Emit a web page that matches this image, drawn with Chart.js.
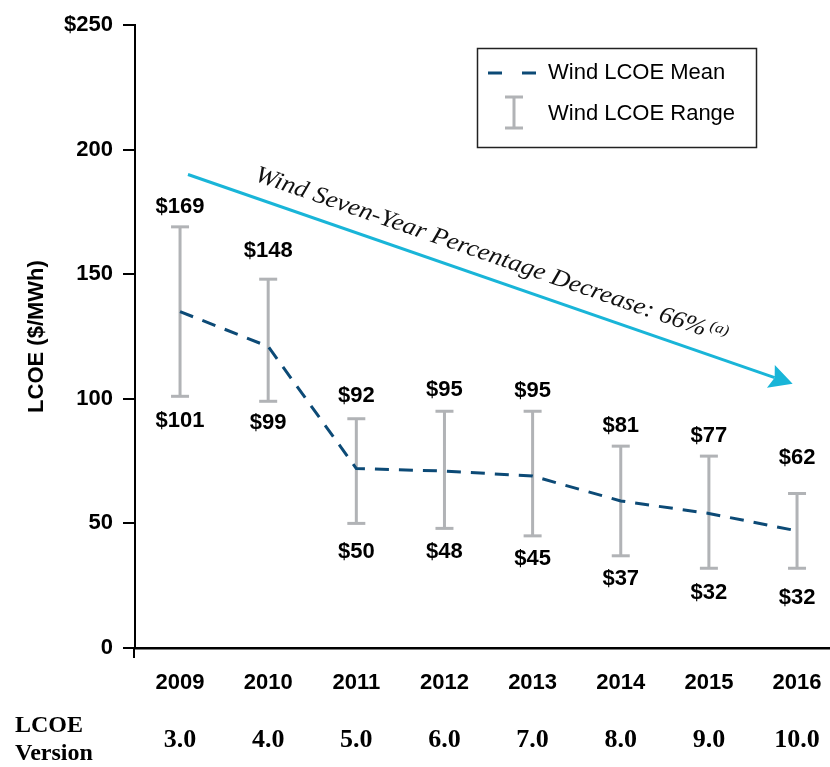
<!DOCTYPE html>
<html><head><meta charset="utf-8">
<script src="https://cdn.jsdelivr.net/npm/chart.js@4.4.1/dist/chart.umd.min.js"></script>
<style>html,body{margin:0;padding:0;background:#fff;overflow:hidden}#wrap{position:relative;width:830px;height:767px}canvas{display:block}</style>
</head><body><div id="wrap"><canvas id="c"></canvas></div>
<script>
// ---- data ----
const years = [2009, 2010, 2011, 2012, 2013, 2014, 2015, 2016];
const versions = ['3.0', '4.0', '5.0', '6.0', '7.0', '8.0', '9.0', '10.0'];
const meanLCOE = [135, 121, 72, 71, 69, 59, 54, 47];
const lowLCOE = [101, 99, 50, 48, 45, 37, 32, 32];
const highLCOE = [169, 148, 92, 95, 95, 81, 77, 62];
const yTickValues = [0, 50, 100, 150, 200, 250];
const arrowFrom = { x: 2009.09, y: 190 };
const arrowTo = { x: 2015.95, y: 106 };
const annotationText = 'Wind Seven-Year Percentage Decrease: 66%';
const annotationNote = '(a)';
const legendLabels = ['Wind LCOE Mean', 'Wind LCOE Range'];
const rowLabel = ['LCOE', 'Version'];

// ---- styles ----
const SANS = "'Liberation Sans',Arial,sans-serif";
const SERIF = "'Liberation Serif','Times New Roman',serif";
const NAVY = '#0c4a76';
const GRAY = '#b1b3b6';
const CYAN = '#19b5d8';
const topNudge = [0, 8, 3, 1, 0, 0, 0, 16];
const botNudge = [1, -2, 5, 0, -1, -1, 1, 6];

const rangePoints = [];
years.forEach((yr, i) => {
  rangePoints.push({ x: yr, y: lowLCOE[i] });
  rangePoints.push({ x: yr, y: highLCOE[i] });
  rangePoints.push({ x: yr, y: null });
});

const overlay = {
  id: 'overlay',
  afterDatasetsDraw(chart) {
    const { ctx, scales: { x, y } } = chart;
    ctx.save();
    // value labels
    ctx.font = 'bold 22px ' + SANS;
    ctx.fillStyle = '#000';
    ctx.textAlign = 'center';
    ctx.textBaseline = 'middle';
    years.forEach((yr, i) => {
      const px = x.getPixelForValue(yr);
      ctx.fillText('$' + highLCOE[i], px, y.getPixelForValue(highLCOE[i]) - 20 - topNudge[i]);
      ctx.fillText('$' + lowLCOE[i], px, y.getPixelForValue(lowLCOE[i]) + 24 + botNudge[i]);
    });

    // arrow
    const x0 = x.getPixelForValue(arrowFrom.x), y0 = y.getPixelForValue(arrowFrom.y);
    const x1 = x.getPixelForValue(arrowTo.x), y1 = y.getPixelForValue(arrowTo.y);
    const a = Math.atan2(y1 - y0, x1 - x0);
    const ca = Math.cos(a), sa = Math.sin(a);
    const headLen = 23, headW = 12, notch = 4;
    const bx = x1 - headLen * ca, by = y1 - headLen * sa;
    ctx.strokeStyle = CYAN; ctx.lineWidth = 3; ctx.lineCap = 'butt';
    ctx.beginPath(); ctx.moveTo(x0, y0); ctx.lineTo(bx + notch * ca, by + notch * sa); ctx.stroke();
    ctx.fillStyle = CYAN;
    ctx.beginPath();
    ctx.moveTo(x1, y1);
    ctx.lineTo(bx + headW * sa, by - headW * ca);
    ctx.lineTo(bx + notch * ca, by + notch * sa);
    ctx.lineTo(bx - headW * sa, by + headW * ca);
    ctx.closePath(); ctx.fill();

    // annotation text along the arrow
    ctx.save();
    ctx.translate(x0, y0); ctx.rotate(a);
    ctx.font = 'italic 24px ' + SERIF;
    const w = ctx.measureText(annotationText).width;
    const sx = 476 / w;
    ctx.translate(64, -16);
    ctx.scale(sx, 1);
    ctx.fillStyle = '#111'; ctx.textAlign = 'left'; ctx.textBaseline = 'alphabetic';
    ctx.fillText(annotationText, 0, 0);
    ctx.font = 'italic 15px ' + SERIF;
    ctx.fillText(annotationNote, w + 3 / sx, -8);
    ctx.restore();

    ctx.restore();
  },
  afterDraw(chart) {
    const { ctx, chartArea } = chart;
    ctx.save();
    // y axis extension below the x axis
    ctx.strokeStyle = '#000'; ctx.lineWidth = 2;
    ctx.beginPath(); ctx.moveTo(chartArea.left - 1, chartArea.bottom); ctx.lineTo(chartArea.left - 1, chartArea.bottom + 10); ctx.stroke();

    // legend box
    ctx.strokeStyle = '#222'; ctx.lineWidth = 1.5;
    ctx.strokeRect(477.5, 48.5, 279, 99);
    ctx.strokeStyle = NAVY; ctx.lineWidth = 3;
    ctx.beginPath(); ctx.moveTo(488, 73); ctx.lineTo(502, 73); ctx.moveTo(522, 73); ctx.lineTo(536, 73); ctx.stroke();
    ctx.strokeStyle = GRAY; ctx.lineWidth = 3;
    ctx.beginPath();
    ctx.moveTo(514, 97); ctx.lineTo(514, 128);
    ctx.moveTo(505, 97); ctx.lineTo(523, 97);
    ctx.moveTo(505, 128); ctx.lineTo(523, 128);
    ctx.stroke();
    ctx.fillStyle = '#000'; ctx.font = '22px ' + SANS;
    ctx.textAlign = 'left'; ctx.textBaseline = 'middle';
    ctx.fillText(legendLabels[0], 548, 73);
    ctx.fillText(legendLabels[1], 548, 114);

    // row label
    ctx.font = 'bold 24px ' + SERIF;
    ctx.fillText(rowLabel[0], 15, 726);
    ctx.fillText(rowLabel[1], 15, 754);
    ctx.restore();
  }
};

const noPad = s => { s.paddingLeft = 0; s.paddingRight = 0; };

new Chart(document.getElementById('c'), {
  type: 'line',
  data: {
    datasets: [
      {
        label: legendLabels[0],
        data: years.map((yr, i) => ({ x: yr, y: meanLCOE[i] })),
        borderColor: NAVY, borderWidth: 3, borderDash: [14, 10],
        pointRadius: 0, tension: 0, fill: false, order: 1
      },
      {
        label: legendLabels[1],
        data: rangePoints,
        borderColor: GRAY, borderWidth: 3, spanGaps: false,
        pointStyle: 'line', pointRadius: 9, pointBorderWidth: 3,
        pointBorderColor: GRAY, pointHoverRadius: 9, fill: false, order: 2
      }
    ]
  },
  options: {
    responsive: true, maintainAspectRatio: false, animation: false,
    layout: { autoPadding: false, padding: { top: 25, right: 0, left: 0, bottom: 0 } },
    plugins: { legend: { display: false }, tooltip: { enabled: false } },
    scales: {
      x: {
        type: 'linear', position: 'bottom', weight: 0,
        min: 2008.489, max: 2016.374,
        afterBuildTicks: s => { s.ticks = years.map(v => ({ value: v })); },
        afterFit: s => { s.height = 58; noPad(s); },
        grid: { display: false },
        border: { display: true, color: '#000', width: 2.5 },
        ticks: {
          autoSkip: false, maxRotation: 0, padding: 14, color: '#000',
          font: { family: SANS, size: 22, weight: 'bold' },
          callback: v => String(v)
        }
      },
      x2: {
        type: 'linear', position: 'bottom', weight: 1,
        min: 2008.489, max: 2016.374,
        afterBuildTicks: s => { s.ticks = years.map(v => ({ value: v })); },
        afterFit: s => { s.height = 61; noPad(s); },
        grid: { display: false },
        border: { display: false },
        ticks: {
          autoSkip: false, maxRotation: 0, padding: 11, color: '#000',
          font: { family: SERIF, size: 26, weight: 'bold' },
          callback: v => versions[years.indexOf(v)]
        }
      },
      y: {
        type: 'linear', min: 0, max: 250,
        afterBuildTicks: s => { s.ticks = yTickValues.map(v => ({ value: v })); },
        afterFit: s => { s.width = 135; },
        grid: { drawOnChartArea: false, drawTicks: true, tickLength: 12, color: '#000', lineWidth: 2 },
        border: { display: true, color: '#000', width: 2 },
        title: {
          display: true, text: 'LCOE ($/MWh)', color: '#000',
          font: { family: SANS, size: 22, weight: 'bold' },
          padding: { top: 24, bottom: 0 }
        },
        ticks: {
          padding: 10, color: '#000',
          font: { family: SANS, size: 22, weight: 'bold' },
          callback: v => (v === 250 ? '$' + v : String(v))
        }
      }
    }
  },
  plugins: [overlay]
});
</script>
</body></html>
